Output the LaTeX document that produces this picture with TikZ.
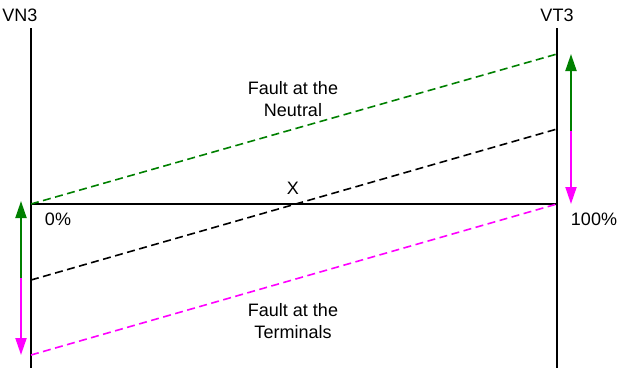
\documentclass[tikz,border=0pt]{standalone}
\usepackage{fontspec}
\setmainfont{Liberation Sans}
\usetikzlibrary{arrows.meta}
\definecolor{dgreen}{RGB}{0,128,0}
\definecolor{mag}{RGB}{255,0,255}
\begin{document}
\begin{tikzpicture}[x=1pt,y=-1pt,
  lbl/.style={font=\fontsize{18}{22}\selectfont, inner sep=0pt, align=center},
  axis/.style={line width=2pt, black},
  dline/.style={line width=1.6pt, dash pattern=on 8pt off 4.5pt},
  arr/.style={line width=2pt, -{Triangle[width=11pt,length=17pt]}}]
\useasboundingbox (0,0) rectangle (625,368);
% axes
\coordinate (Lt) at (31,28); \coordinate (Lb) at (31,368);
\coordinate (Rt) at (557,28); \coordinate (Rb) at (557,368);
\coordinate (L0) at (31,204); \coordinate (R0) at (557,204);
\draw[axis] (Lt) -- (Lb);
\draw[axis] (Rt) -- (Rb);
\draw[axis] (L0) -- (R0);
% dashed lines
\coordinate (Rg) at (557,54);
\coordinate (Lk) at (31,280); \coordinate (Rk) at (557,129);
\coordinate (Lm) at (31,355);
\draw[dline, dgreen] (L0) -- (Rg);
\draw[dline, black] (Lk) -- (Rk);
\draw[dline, mag] (Lm) -- (R0);
% arrows left
\coordinate (al) at (21,278);
\coordinate (alt) at (21,201);
\coordinate (alb) at (21,355);
\draw[arr, dgreen] (al) -- (alt);
\draw[arr, mag] (al) -- (alb);
% arrows right
\coordinate (ar) at (571,131);
\coordinate (art) at (571,54);
\coordinate (arb) at (571,204);
\draw[arr, dgreen] (ar) -- (art);
\draw[arr, mag] (ar) -- (arb);
% labels
\node[lbl] (vn3) at (20,15) {VN3};
\node[lbl] (vt3) at (557,15) {VT3};
\node[lbl] (p0) at (58,219) {0\%};
\node[lbl] (p100) at (594,219) {100\%};
\node[lbl] (x) at (293,188) {X};
\node[lbl] (fn) at (293,99) {Fault at the\\Neutral};
\node[lbl] (ft) at (293,321) {Fault at the\\Terminals};
\end{tikzpicture}
\end{document}
